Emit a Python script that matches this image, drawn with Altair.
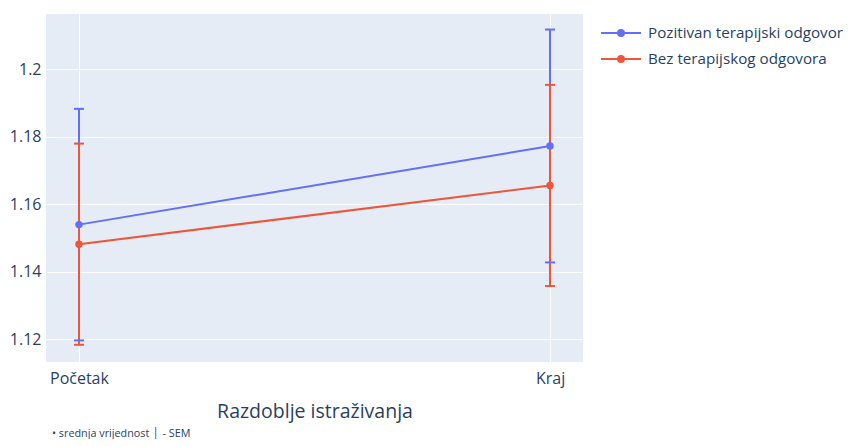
import altair as alt
import pandas as pd

periods = ["Početak", "Kraj"]
groups = ["Pozitivan terapijski odgovor", "Bez terapijskog odgovora"]
colors = ["#636efa", "#EF553B"]
mean_pos = [1.1539, 1.1772]
sem_pos = [0.0343, 0.0345]
mean_neg = [1.1481, 1.1655]
sem_neg = [0.0298, 0.0298]
y_ticks = [1.12, 1.14, 1.16, 1.18, 1.2]

rows = []
for g, means, sems in [(groups[0], mean_pos, sem_pos), (groups[1], mean_neg, sem_neg)]:
    for p, m, s in zip(periods, means, sems):
        rows.append({"period": p, "group": g, "mean": m, "lo": m - s, "hi": m + s})
df = pd.DataFrame(rows)

FONT = "Open Sans"
TXT = "#2a3f5f"

x_enc = alt.X("period:N", sort=periods,
              scale=alt.Scale(type="point", padding=0.07),
              axis=alt.Axis(title="Razdoblje istraživanja", labelAngle=0, ticks=False,
                            domain=False, labelPadding=8, titlePadding=16,
                            labelFontSize=16, titleFontSize=19.5, titleFontWeight="normal",
                            gridColor="white", gridWidth=1, grid=True))
y_scale = alt.Scale(domain=[1.1132, 1.2163], nice=False, zero=False)
y_axis = alt.Axis(title=None, values=y_ticks, format="~g", ticks=False, domain=False,
                  labelPadding=5, labelFontSize=16, gridColor="white", gridWidth=1)

legend = alt.Legend(title=None, orient="none", legendX=564, legendY=8,
                    symbolType="M-2,0L2,0M0.3,0A0.3,0.3,0,1,1,-0.3,0A0.3,0.3,0,1,1,0.3,0ZM0.12,0A0.12,0.12,0,1,1,-0.12,0A0.12,0.12,0,1,1,0.12,0Z",
                    symbolSize=400, symbolStrokeWidth=2, symbolOpacity=1, labelOffset=16,
                    labelFontSize=15.2, labelFont=FONT, labelColor=TXT, rowPadding=6,
                    padding=0, labelLimit=300)
color_enc = alt.Color("group:N", sort=groups,
                      scale=alt.Scale(domain=groups, range=colors), legend=legend)

base = alt.Chart(df)

rule = base.mark_rule(strokeWidth=2).encode(
    x=x_enc, y=alt.Y("lo:Q", scale=y_scale, axis=y_axis), y2="hi:Q", color=color_enc)
cap_lo = base.mark_tick(thickness=2, size=10, opacity=1).encode(
    x=x_enc, y=alt.Y("lo:Q", scale=y_scale, axis=y_axis), color=color_enc)
cap_hi = base.mark_tick(thickness=2, size=10, opacity=1).encode(
    x=x_enc, y=alt.Y("hi:Q", scale=y_scale, axis=y_axis), color=color_enc)
line = base.mark_line(strokeWidth=2).encode(
    x=x_enc, y=alt.Y("mean:Q", scale=y_scale, axis=y_axis), color=color_enc)
pts = base.mark_circle(size=55, opacity=1).encode(
    x=x_enc, y=alt.Y("mean:Q", scale=y_scale, axis=y_axis), color=color_enc)

chart = alt.layer(rule, cap_lo, cap_hi, line, pts).properties(
    width=537, height=348,
    autosize=alt.AutoSizeParams(type="none"),
    padding={"left": 38, "top": 6, "right": 263, "bottom": 77},
    title=alt.Title("• srednja vrijednost  │ - SEM", orient="bottom", anchor="start",
                    frame="group", fontSize=10.8, font=FONT, color=TXT,
                    fontWeight="normal", offset=7, dx=6),
).configure(
    font=FONT, background="white"
).configure_view(
    fill="#E5ECF6", stroke=None
).configure_axis(
    labelFont=FONT, titleFont=FONT, labelColor=TXT, titleColor=TXT
)

chart.save("out.html", embed_options={"renderer": "svg", "actions": False})
